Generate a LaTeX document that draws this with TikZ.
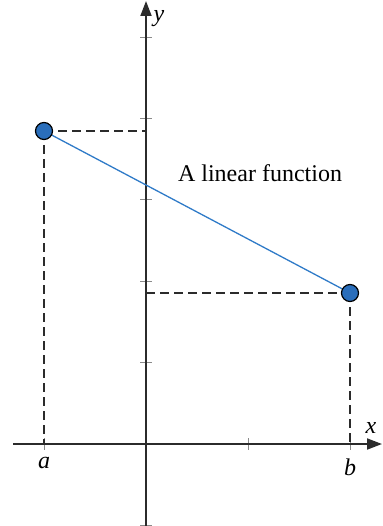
\documentclass[tikz,border=0pt]{standalone}
\usepackage{fontspec}
\setmainfont{Liberation Serif}
\usetikzlibrary{arrows.meta}
\definecolor{axisgray}{HTML}{2B2B2B}
\definecolor{tickgray}{HTML}{8A8A8A}
\definecolor{dotblue}{HTML}{2A6EBB}
\definecolor{lineblue}{HTML}{2F7BC8}
\begin{document}
\begin{tikzpicture}[x=1pt,y=-1pt,
  axisline/.style={draw=axisgray,line width=1.8pt,-{Triangle[length=15pt,width=11pt]}},
  tickmark/.style={draw=tickgray,line width=1pt},
  guide/.style={draw=axisgray,line width=1.2pt,dash pattern=on 9pt off 5pt},
  dot/.style={circle,draw=black,line width=1.2pt,fill=dotblue,minimum size=17pt,inner sep=0pt},
  lbl/.style={font=\fontsize{24}{28}\selectfont\itshape,inner sep=0pt},
  txt/.style={font=\fontsize{24}{28}\selectfont,inner sep=0pt}]
\useasboundingbox (0,0) rectangle (382,526);
% axes
\coordinate (O) at (146,444);
\coordinate (xs) at (13,444);
\coordinate (xe) at (382,444);
\coordinate (ys) at (146,526);
\coordinate (ye) at (146,1);
% ticks
\foreach \yy in {38,119,200,281,362,525}
  \draw[tickmark] (140,\yy) -- (152,\yy);
\foreach \xx in {44,248,350}
  \draw[tickmark] (\xx,438) -- (\xx,450);
\draw[axisline] (xs) -- (xe);
\draw[axisline] (ys) -- (ye);
% points
\coordinate (Ay) at (146,131);
\coordinate (Ax) at (44,444);
\coordinate (By) at (146,293);
\coordinate (Bx) at (350,444);
\draw[guide] (44,131) -- (Ay);
\draw[guide] (44,131) -- (Ax);
\draw[guide] (By) -- (350,293);
\draw[guide] (350,293) -- (Bx);
\draw[lineblue,line width=1.3pt] (44,131) -- (350,293);
\node[dot] (P) at (44,131) {};
\node[dot] (Q) at (350,293) {};
% labels
\node[lbl] (ylab) at (159,19) {y};
\node[lbl] (xlab) at (371,428) {x};
\node[lbl] (alab) at (44,463) {a};
\node[lbl] (blab) at (350,467) {b};
\node[txt] (title) at (260,173) {A linear function};
\end{tikzpicture}
\end{document}
